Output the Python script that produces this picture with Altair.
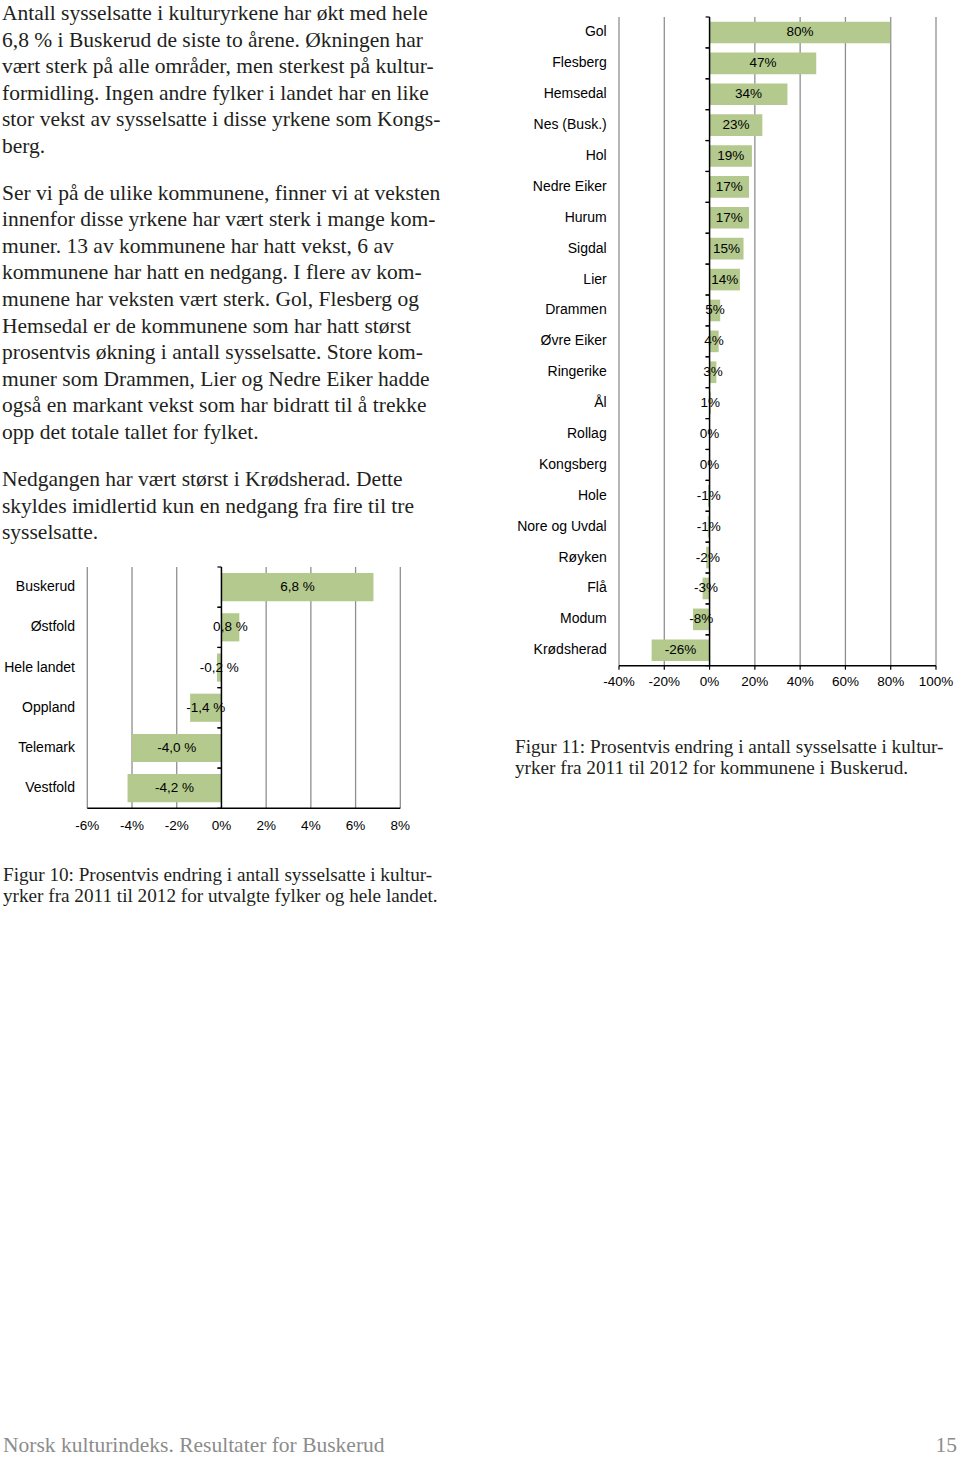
import altair as alt
import pandas as pd

# ---------------- data ----------------
fylker = ["Buskerud", "Østfold", "Hele landet", "Oppland", "Telemark", "Vestfold"]
fylke_endring = [6.8, 0.8, -0.2, -1.4, -4.0, -4.2]
fylke_etiketter = ["6,8 %", "0,8 %", "-0,2 %", "-1,4 %", "-4,0 %", "-4,2 %"]
fylke_ticks = [-6, -4, -2, 0, 2, 4, 6, 8]
fylke_tick_tekst = ["-6%", "-4%", "-2%", "0%", "2%", "4%", "6%", "8%"]

kommuner = ["Gol", "Flesberg", "Hemsedal", "Nes (Busk.)", "Hol", "Nedre Eiker", "Hurum",
            "Sigdal", "Lier", "Drammen", "Øvre Eiker", "Ringerike", "Ål", "Rollag",
            "Kongsberg", "Hole", "Nore og Uvdal", "Røyken", "Flå", "Modum", "Krødsherad"]
kommune_endring = [79.8, 47.1, 34.4, 23.3, 18.7, 17.4, 17.4, 15.0, 13.4, 4.7, 4.0, 3.0,
                   0.6, 0.0, 0.0, -0.7, -0.8, -1.5, -3.1, -7.3, -25.6]
kommune_etiketter = ["80%", "47%", "34%", "23%", "19%", "17%", "17%", "15%", "14%", "5%",
                     "4%", "3%", "1%", "0%", "0%", "-1%", "-1%", "-2%", "-3%", "-8%", "-26%"]
kommune_ticks = [-40, -20, 0, 20, 40, 60, 80, 100]
kommune_tick_tekst = ["-40%", "-20%", "0%", "20%", "40%", "60%", "80%", "100%"]

avsnitt1 = [
    "Antall sysselsatte i kulturyrkene har økt med hele",
    "6,8 % i Buskerud de siste to årene. Økningen har",
    "vært sterk på alle områder, men sterkest på kultur-",
    "formidling. Ingen andre fylker i landet har en like",
    "stor vekst av sysselsatte i disse yrkene som Kongs-",
    "berg.",
]
avsnitt2 = [
    "Ser vi på de ulike kommunene, finner vi at veksten",
    "innenfor disse yrkene har vært sterk i mange kom-",
    "muner. 13 av kommunene har hatt vekst, 6 av",
    "kommunene har hatt en nedgang. I flere av kom-",
    "munene har veksten vært sterk. Gol, Flesberg og",
    "Hemsedal er de kommunene som har hatt størst",
    "prosentvis økning i antall sysselsatte. Store kom-",
    "muner som Drammen, Lier og Nedre Eiker hadde",
    "også en markant vekst som har bidratt til å trekke",
    "opp det totale tallet for fylket.",
]
avsnitt3 = [
    "Nedgangen har vært størst i Krødsherad. Dette",
    "skyldes imidlertid kun en nedgang fra fire til tre",
    "sysselsatte.",
]
figur10 = [
    "Figur 10: Prosentvis endring i antall sysselsatte i kultur-",
    "yrker fra 2011 til 2012 for utvalgte fylker og hele landet.",
]
figur11 = [
    "Figur 11: Prosentvis endring i antall sysselsatte i kultur-",
    "yrker fra 2011 til 2012 for kommunene i Buskerud.",
]
bunntekst = "Norsk kulturindeks. Resultater for Buskerud"
sidetall = "15"

# ---------------- style ----------------
GREEN = "#b3c98d"
GRID = "#8f8f8f"
SANS = "Liberation Sans"
SERIF = "Liberation Serif"
TXT = "#231f20"

one = pd.DataFrame({"k": [0]})


def text_block(lines, x, y, size, lh, color=TXT, align="left", font=SERIF):
    return alt.Chart(one).mark_text(
        text=lines, font=font, fontSize=size, lineHeight=lh, align=align,
        baseline="alphabetic", color=color
    ).encode(x=alt.value(x), y=alt.value(y))


def bar_panel(cats, vals, labels, ticks, tick_text, xdom, xrange, top, bot,
              label_x, tick_y, fs_cat, fs_tick, fs_bar, bottom_ticks):
    xs = alt.Scale(domain=xdom, range=xrange, nice=False, zero=True)
    ys = alt.Scale(domain=cats, range=[top, bot], paddingInner=0, paddingOuter=0)
    df = pd.DataFrame({"cat": cats, "v": vals, "lab": labels})
    tdf = pd.DataFrame({"t": ticks, "tl": tick_text})

    X = lambda f: alt.X(f, scale=xs, axis=None)
    Y = lambda **kw: alt.Y("cat:N", scale=ys, axis=None, **kw)

    grid = alt.Chart(tdf).transform_filter("datum.t != 0").mark_rule(
        color=GRID, strokeWidth=1.3).encode(x=X("t:Q"), y=alt.value(top), y2=alt.value(bot))
    bars = alt.Chart(df).mark_bar(color=GREEN, height=alt.RelativeBandSize(0.7)).encode(
        x=X("v:Q"), y=Y())
    zero = alt.Chart(tdf).transform_filter("datum.t == 0").mark_rule(
        color="black", strokeWidth=1.5).encode(x=X("t:Q"), y=alt.value(top), y2=alt.value(bot))
    base = alt.Chart(tdf).transform_aggregate(lo="min(t)", hi="max(t)").mark_rule(
        color="black", strokeWidth=1.5).encode(x=X("lo:Q"), x2="hi:Q", y=alt.value(bot))
    yt0 = alt.Chart(df).transform_calculate(z="0").mark_rule(
        color="black", strokeWidth=1.2, xOffset=-4).encode(
        x=X("z:Q"), x2="z:Q", y=Y(bandPosition=0))
    yt1 = alt.Chart(df).transform_calculate(z="0").mark_rule(
        color="black", strokeWidth=1.2, xOffset=-4).encode(
        x=X("z:Q"), x2="z:Q", y=Y(bandPosition=1))
    barlab = alt.Chart(df).transform_calculate(mid="datum.v / 2").mark_text(
        font=SANS, fontSize=fs_bar, color="black").encode(
        x=X("mid:Q"), y=Y(), text="lab:N")
    catlab = alt.Chart(df).mark_text(
        font=SANS, fontSize=fs_cat, color="black", align="right").encode(
        x=alt.value(label_x), y=Y(), text="cat:N")
    ticklab = alt.Chart(tdf).mark_text(
        font=SANS, fontSize=fs_tick, color="black", baseline="middle").encode(
        x=X("t:Q"), y=alt.value(tick_y), text="tl:N")
    out = [grid, bars, zero, base, yt0, yt1, barlab, catlab, ticklab]
    if bottom_ticks:
        out.append(alt.Chart(tdf).mark_rule(color="black", strokeWidth=1.2).encode(
            x=X("t:Q"), y=alt.value(bot), y2=alt.value(bot + 4)))
    return out


layers = []
layers += bar_panel(fylker, fylke_endring, fylke_etiketter, fylke_ticks, fylke_tick_tekst,
                    [-6, 8], [87.3, 400.3], 567, 808.3, 75, 826, 14, 13.5, 13.5, False)
layers += bar_panel(kommuner, kommune_endring, kommune_etiketter, kommune_ticks,
                    kommune_tick_tekst, [-40, 100], [619, 936], 17, 665.7, 606.7, 682,
                    14, 13.5, 13.5, True)

layers += [
    text_block(avsnitt1, 2, 20, 21.5, 26.6),
    text_block(avsnitt2, 2, 199.5, 21.5, 26.6),
    text_block(avsnitt3, 2, 486, 21.5, 26.6),
    text_block(figur10, 3, 881, 19.2, 21),
    text_block(figur11, 515, 753, 19.2, 21),
    text_block([bunntekst], 3, 1452, 21.5, 21, color="#8c8c8c"),
    text_block([sidetall], 957, 1452, 21.5, 21, color="#8c8c8c", align="right"),
]

chart = alt.layer(*layers).resolve_scale(x="independent", y="independent").properties(
    width=960, height=1459, autosize=alt.AutoSizeParams(type="none"), padding=0,
    background="white"
).configure_view(stroke=None)

chart.save("out.html", embed_options={"renderer": "svg", "actions": False})
